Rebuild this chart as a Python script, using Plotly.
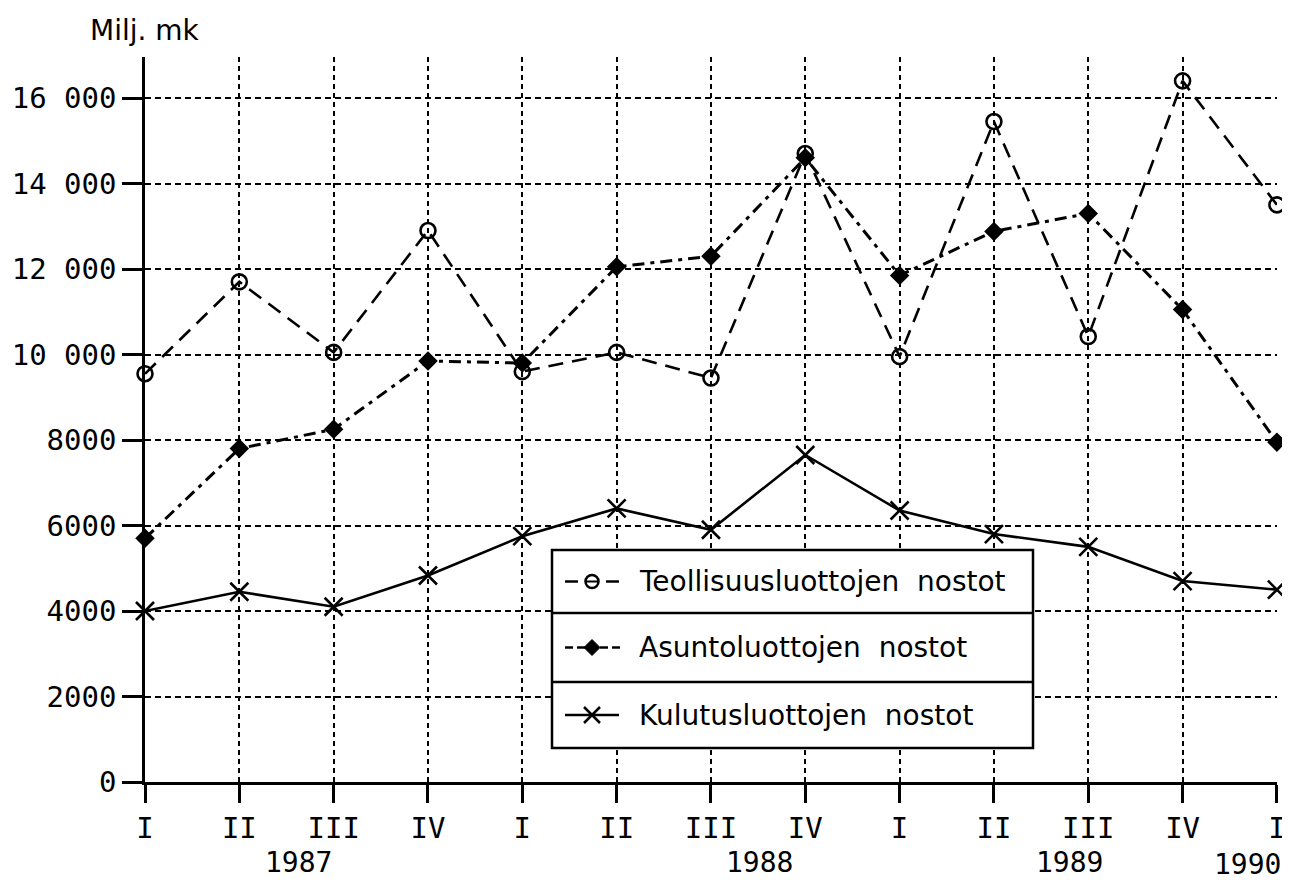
import plotly.graph_objects as go

# The page puts the figure 8 px in from the top-left corner, so the figure is
# sized to end exactly at the window edge and laid out in window pixels.
OFF = 8
W, H = 1290 - OFF, 882 - OFF

quarters = ["I", "II", "III", "IV", "I", "II", "III", "IV", "I", "II", "III", "IV", "I"]
years = ["1987", "1988", "1989", "1990"]
teollisuus = [9550, 11700, 10050, 12900, 9600, 10050, 9450, 14700, 9950, 15450, 10420, 16400, 13500]
asunto = [5700, 7800, 8250, 9850, 9800, 12050, 12300, 14600, 11850, 12880, 13300, 11050, 7950]
kulutus = [4000, 4450, 4100, 4830, 5750, 6400, 5900, 7650, 6350, 5800, 5500, 4700, 4500]
y_ticks = [0, 2000, 4000, 6000, 8000, 10000, 12000, 14000, 16000]
y_ticktext = ["0", "2000", "4000", "6000", "8000", "10 000", "12 000", "14 000", "16 000"]
legend_names = ["Teollisuusluottojen  nostot", "Asuntoluottojen  nostot", "Kulutusluottojen  nostot"]

xs = list(range(len(quarters)))


def PX(p):
    return (p - OFF) / W


def PY(p):
    return 1 - (p - OFF) / H


fig = go.Figure()
fig.add_trace(go.Scatter(
    x=xs, y=teollisuus, mode="lines+markers", cliponaxis=False,
    line=dict(color="black", width=2.6, dash="15px,9px"),
    marker=dict(symbol="circle-open", size=15, color="black", line=dict(width=2.6)),
))
fig.add_trace(go.Scatter(
    x=xs, y=asunto, mode="lines+markers", cliponaxis=False,
    line=dict(color="black", width=3, dash="12px,6px,4px,6px"),
    marker=dict(symbol="diamond", size=15, color="black"),
))
fig.add_trace(go.Scatter(
    x=xs, y=kulutus, mode="lines+markers", cliponaxis=False,
    line=dict(color="black", width=2.6),
    marker=dict(symbol="x-thin-open", size=18, color="black", line=dict(width=2.6, color="black")),
))

x0p, x1p = 145, 1277
ytop, ybot = 57, 782
ymax = 16000 + (98 - ytop) / ((ybot - 98) / 16000)

tickfont = dict(family="DejaVu Sans Mono", size=29, color="black")

fig.update_layout(
    width=W, height=H,
    margin=dict(l=0, r=0, t=0, b=0, autoexpand=False),
    paper_bgcolor="white", plot_bgcolor="white",
    showlegend=False,
    xaxis=dict(
        domain=[PX(x0p), PX(x1p)], range=[0, 12.001], automargin=False,
        tickvals=xs, ticktext=quarters,
        ticks="outside", ticklen=18, tickwidth=2.5, tickcolor="black",
        showline=True, linecolor="black", linewidth=2.5,
        showgrid=True, gridcolor="black", gridwidth=2, griddash="5px,4px",
        zeroline=False, tickfont=tickfont,
    ),
    yaxis=dict(
        domain=[PY(ybot), PY(ytop)], range=[0, ymax], automargin=False,
        tickvals=y_ticks, ticktext=y_ticktext,
        ticks="outside", ticklen=20, tickwidth=2.5, tickcolor="black",
        showline=True, linecolor="black", linewidth=2.5,
        showgrid=True, gridcolor="black", gridwidth=2, griddash="6px,4px",
        zeroline=False, tickfont=tickfont,
    ),
)

annotations = [
    dict(text="Milj. mk", x=PX(145), y=PY(31), xref="paper", yref="paper",
         xanchor="center", yanchor="middle",
         showarrow=False, font=dict(family="DejaVu Sans", size=28, color="black")),
]
year_pos = [(298, 862), (759, 862), (1069, 862), (1247, 864)]
for yr, (px_, py_) in zip(years, year_pos):
    annotations.append(dict(text=yr, x=PX(px_), y=PY(py_), xref="paper", yref="paper",
                            xanchor="center", yanchor="middle", showarrow=False,
                            font=dict(family="DejaVu Sans Mono", size=28, color="black")))

# legend box
bx0, bx1 = 552, 1033
rows = [550, 613, 682, 748]
shapes = [
    dict(type="rect", xref="paper", yref="paper", x0=PX(bx0), x1=PX(bx1), y0=PY(rows[0]), y1=PY(rows[3]),
         line=dict(color="black", width=2.5), fillcolor="white", layer="above"),
]
for r in rows[1:3]:
    shapes.append(dict(type="line", xref="paper", yref="paper", x0=PX(bx0), x1=PX(bx1), y0=PY(r), y1=PY(r),
                       line=dict(color="black", width=2.5), layer="above"))

centers = [(rows[i] + rows[i + 1]) / 2 for i in range(3)]
for name, cy in zip(legend_names, centers):
    annotations.append(dict(text=name, x=PX(637), y=PY(cy), xref="paper", yref="paper",
                            xanchor="left", yanchor="middle", showarrow=False,
                            font=dict(family="DejaVu Sans", size=28, color="black")))

mx = 592
# row 1: -o-
cy = centers[0]
shapes += [
    dict(type="line", xref="paper", yref="paper", x0=PX(565), x1=PX(578), y0=PY(cy), y1=PY(cy),
         line=dict(color="black", width=2.5), layer="above"),
    dict(type="line", xref="paper", yref="paper", x0=PX(606), x1=PX(619), y0=PY(cy), y1=PY(cy),
         line=dict(color="black", width=2.5), layer="above"),
    dict(type="circle", xref="paper", yref="paper", x0=PX(mx - 6.5), x1=PX(mx + 6.5), y0=PY(cy - 6.5), y1=PY(cy + 6.5),
         line=dict(color="black", width=2.5), layer="above"),
    dict(type="line", xref="paper", yref="paper", x0=PX(mx - 6), x1=PX(mx + 6), y0=PY(cy), y1=PY(cy),
         line=dict(color="black", width=2), layer="above"),
]
# row 2: --<>--
cy = centers[1]
for a, b in [(565, 573), (577, 585), (600, 608), (612, 620)]:
    shapes.append(dict(type="line", xref="paper", yref="paper", x0=PX(a), x1=PX(b), y0=PY(cy), y1=PY(cy),
                       line=dict(color="black", width=2.5), layer="above"))
d = 8
shapes.append(dict(type="path", xref="paper", yref="paper",
                   path=f"M {PX(mx - d)} {PY(cy)} L {PX(mx)} {PY(cy - d)} L {PX(mx + d)} {PY(cy)} L {PX(mx)} {PY(cy + d)} Z",
                   fillcolor="black", line=dict(color="black", width=1), layer="above"))
# row 3: -x-
cy = centers[2]
shapes.append(dict(type="line", xref="paper", yref="paper", x0=PX(565), x1=PX(619), y0=PY(cy), y1=PY(cy),
                   line=dict(color="black", width=2.5), layer="above"))
e = 8
shapes += [
    dict(type="line", xref="paper", yref="paper", x0=PX(mx - e), x1=PX(mx + e), y0=PY(cy - e), y1=PY(cy + e),
         line=dict(color="black", width=2.5), layer="above"),
    dict(type="line", xref="paper", yref="paper", x0=PX(mx - e), x1=PX(mx + e), y0=PY(cy + e), y1=PY(cy - e),
         line=dict(color="black", width=2.5), layer="above"),
]

fig.update_layout(annotations=annotations, shapes=shapes)
fig.write_html("out.html")
